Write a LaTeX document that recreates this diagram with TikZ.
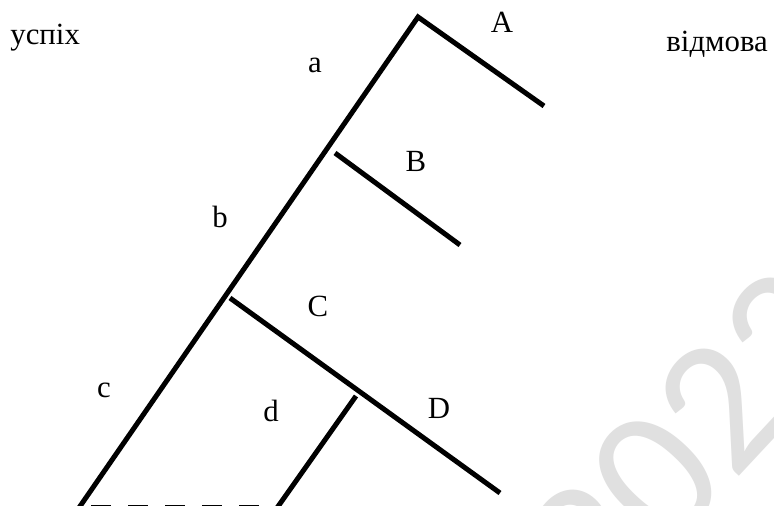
\documentclass[tikz,border=0pt]{standalone}
\usepackage{fontspec}
\setmainfont{Liberation Serif}
\newfontfamily\wmfont{Carlito}
\begin{document}
\begin{tikzpicture}[x=0.5pt,y=-0.5pt,
  branch/.style={line width=2.5pt, line join=miter},
  dashline/.style={line width=2.5pt, dash pattern=on 10pt off 8.5pt},
  lbl/.style={font=\fontsize{15.4}{18}\selectfont, anchor=base, inner sep=0pt},
  wm/.style={font=\wmfont\fontsize{95}{95}\selectfont, text=black!12, anchor=base west, inner sep=0pt, rotate=47},
]
\path[use as bounding box] (0,0) rectangle (774,506);
\clip (0,0) rectangle (774,506);
\fill[white] (0,0) rectangle (774,506);
\node[wm] (wm) at (602,624) {2023};
% coordinates
\coordinate (base) at (74,515);
\coordinate (apex) at (418,17);
\coordinate (Aend) at (544,106);
\coordinate (Bstart) at (335,153);
\coordinate (Bend) at (460,245);
\coordinate (Cstart) at (230,298);
\coordinate (Cend) at (500,493);
\coordinate (dtop) at (356,396);
\coordinate (dbot) at (272,515);
\coordinate (dashL) at (91,507);
\coordinate (dashR) at (266,507);
% lines
\draw[branch] (base) -- (apex) -- (Aend);
\draw[branch] (Bstart) -- (Bend);
\draw[branch] (Cstart) -- (Cend);
\draw[branch] (dtop) -- (dbot);
\draw[dashline] (dashL) -- (dashR);
% labels
\node[lbl, anchor=base west] (succ) at (10,45) {успіх};
\node[lbl, anchor=base west] (fail) at (666,52) {відмова};
\node[lbl] (lA) at (502,33) {A};
\node[lbl] (la) at (315,73) {a};
\node[lbl] (lB) at (416,172) {B};
\node[lbl] (lb) at (220,228) {b};
\node[lbl] (lC) at (318,317) {C};
\node[lbl] (lc) at (104,398) {c};
\node[lbl] (ld) at (271,422) {d};
\node[lbl] (lD) at (439,418) {D};
\end{tikzpicture}
\end{document}
